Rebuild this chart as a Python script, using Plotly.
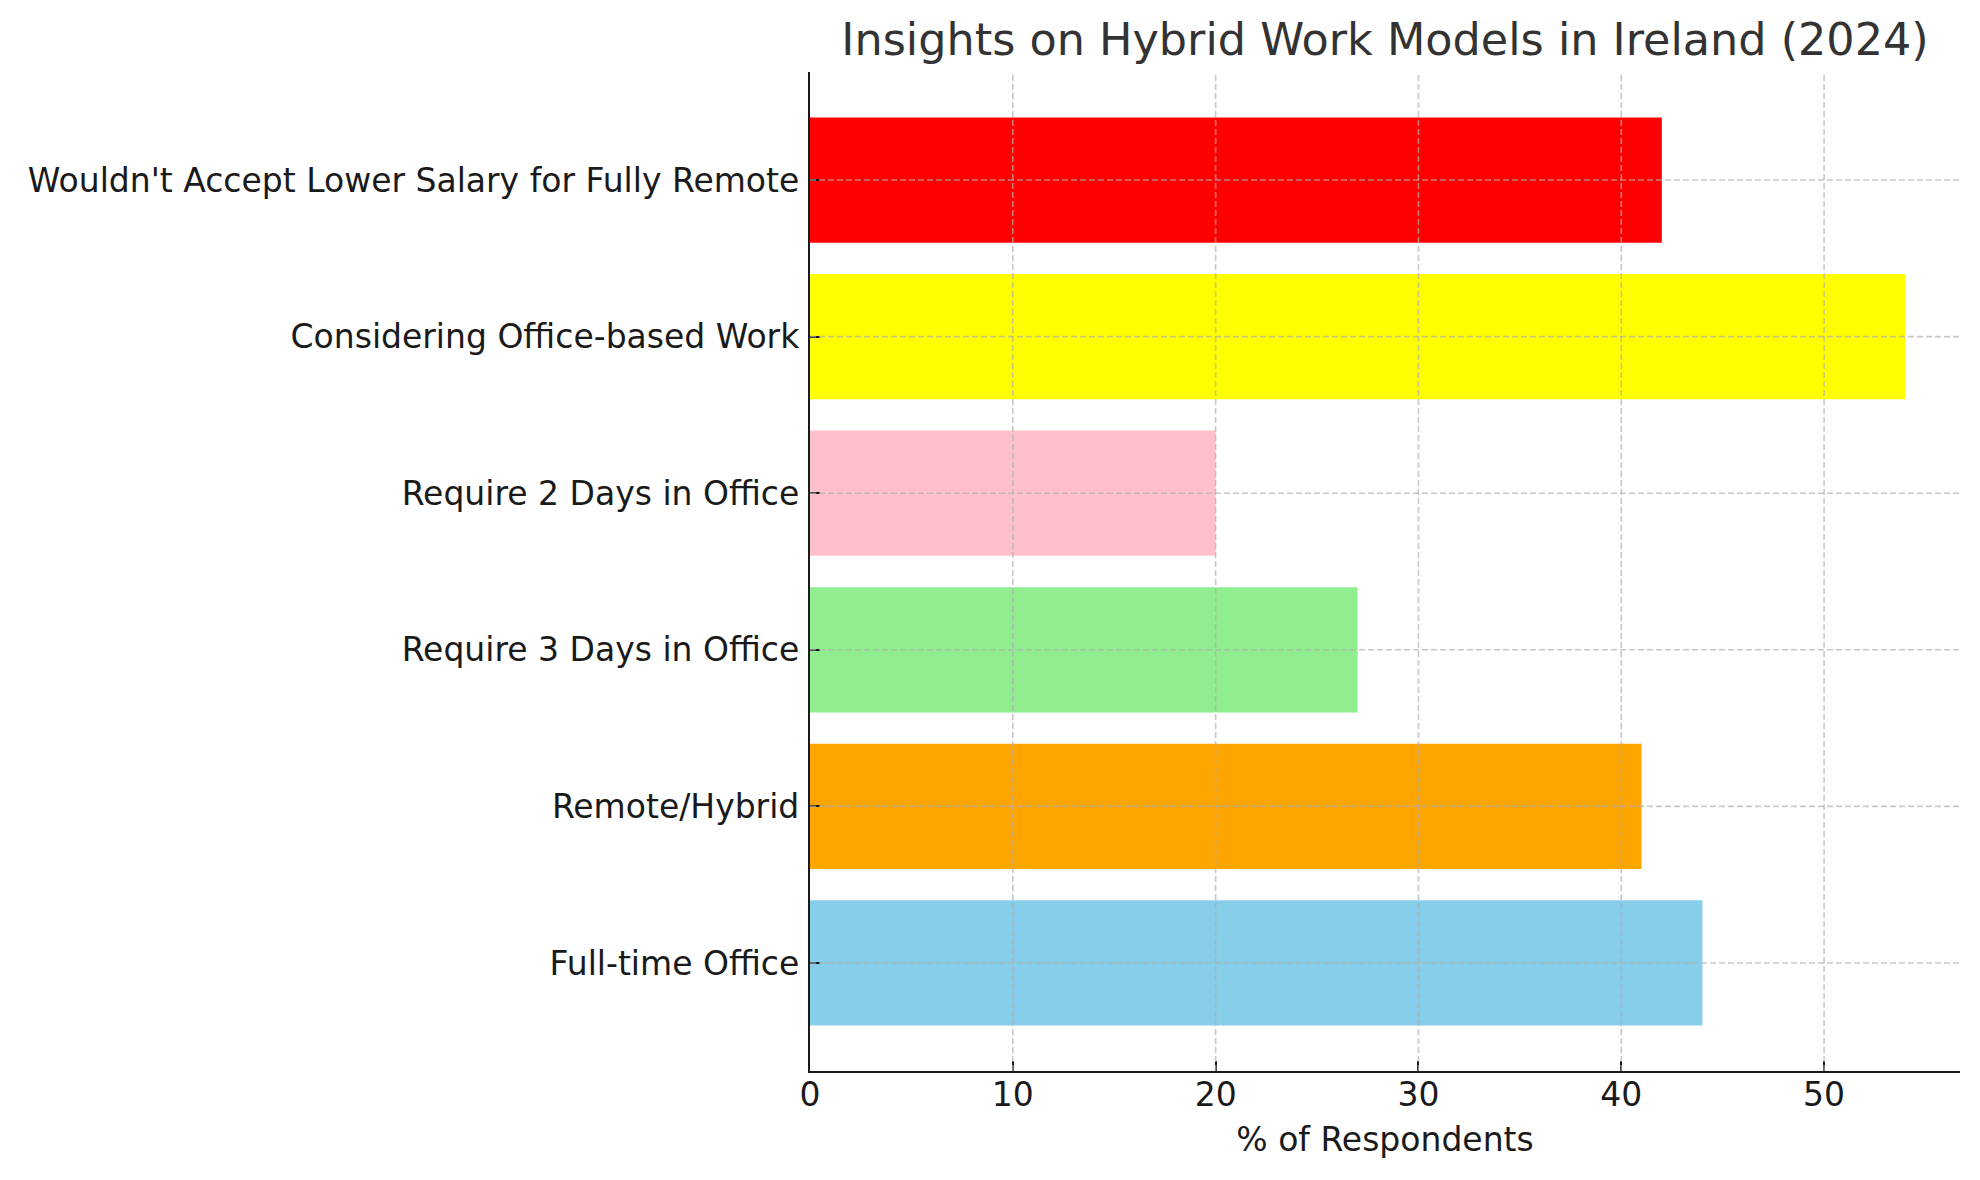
import plotly.graph_objects as go

categories = ["Full-time Office", "Remote/Hybrid", "Require 3 Days in Office",
              "Require 2 Days in Office", "Considering Office-based Work",
              "Wouldn't Accept Lower Salary for Fully Remote"]
values = [44, 41, 27, 20, 54, 42]
colors = ["#87CEEB", "#FFA500", "#90EE90", "#FFC0CB", "#FFFF00", "#FF0000"]
x_ticks = [0, 10, 20, 30, 40, 50]

FONT = "DejaVu Sans"
OFF = 8  # default body margin of the page
GRID = dict(color="rgba(176,176,176,0.7)", width=1.6, dash="6px,3px")

fig = go.Figure(go.Bar(
    y=list(range(len(categories))), x=values, orientation="h",
    marker=dict(color=colors, line=dict(width=0)), width=0.8,
))

# grid drawn above the bars (as in the reference)
for xv in x_ticks[1:]:
    fig.add_shape(type="line", xref="x", yref="paper", x0=xv, x1=xv, y0=0, y1=1,
                  line=GRID, layer="above")
for yi in range(len(categories)):
    fig.add_shape(type="line", xref="paper", yref="y", x0=0, x1=1, y0=yi, y1=yi,
                  line=GRID, layer="above")

fig.update_layout(
    width=1980, height=1180,
    margin=dict(l=810 - OFF, r=20 + OFF, t=72 - OFF, b=109 + OFF),
    plot_bgcolor="white", paper_bgcolor="white",
    font=dict(family=FONT, size=33, color="#1a1a1a"),
    showlegend=False,
    title=dict(text="Insights on Hybrid Work Models in Ireland (2024)",
               x=((810 + 1960) / 2 - OFF) / 1980, xanchor="center",
               y=1 - 31 / 1180, yanchor="middle",
               font=dict(family=FONT, size=44.5, color="#333333")),
)

fig.update_xaxes(
    range=[0, 56.7], tickvals=x_ticks, ticktext=[str(v) for v in x_ticks],
    showgrid=False,
    showline=True, linecolor="#1a1a1a", linewidth=2.2,
    ticks="inside", ticklen=10, tickwidth=2, tickcolor="#1a1a1a",
    zeroline=False, ticklabelstandoff=-7,
    tickfont=dict(family=FONT, size=33, color="#1a1a1a"),
    title=dict(text="% of Respondents", standoff=15,
               font=dict(family=FONT, size=33, color="#1a1a1a")),
)
fig.update_yaxes(
    range=[-0.69, 5.69], tickvals=list(range(len(categories))), ticktext=categories,
    showgrid=False,
    showline=True, linecolor="#1a1a1a", linewidth=2.2,
    ticks="inside", ticklen=10, tickwidth=2, tickcolor="#1a1a1a",
    zeroline=False, ticklabelstandoff=2,
    tickfont=dict(family=FONT, size=33, color="#1a1a1a"),
)

fig.write_html("out.html")
